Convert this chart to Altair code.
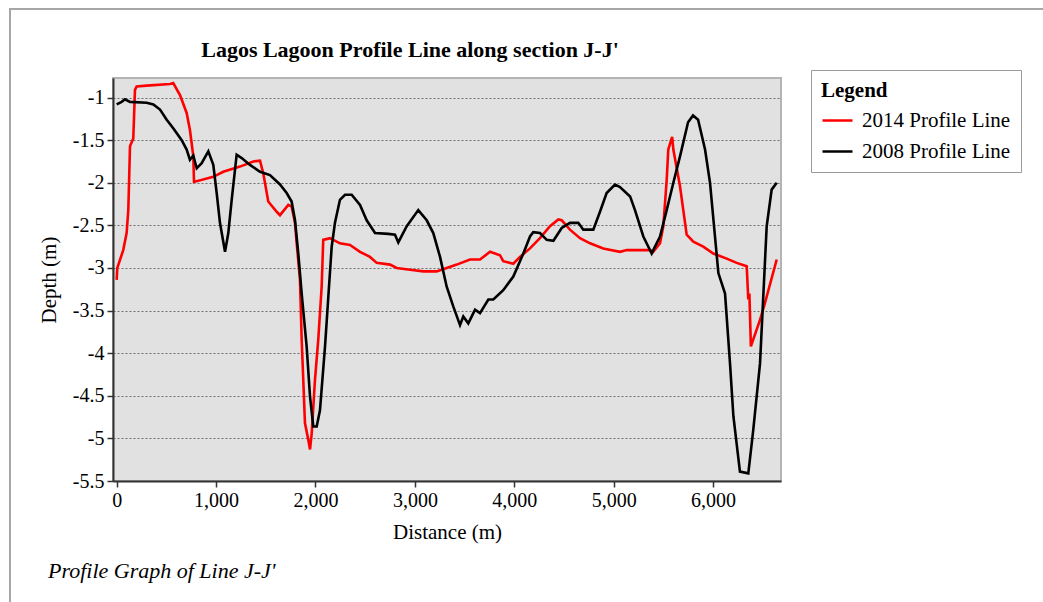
import altair as alt
import pandas as pd

# 2014 survey profile (distance along J-J' in metres, depth in metres)
dist_2014 = [0, 6, 66, 100, 117, 134, 167, 184, 201, 302, 536, 569, 637, 704, 737,
             771, 778, 972, 1072, 1240, 1374, 1442, 1475, 1525, 1610, 1643, 1726, 1760,
             1794, 1811, 1844, 1861, 1877, 1894, 1928, 1945, 1962, 1995, 2028, 2062,
             2078, 2146, 2246, 2347, 2448, 2548, 2616, 2750, 2817, 2951, 3085, 3219,
             3320, 3421, 3554, 3655, 3756, 3856, 3889, 3990, 4057, 4158, 4258, 4359,
             4443, 4477, 4560, 4661, 4762, 4895, 5063, 5131, 5365, 5398, 5466, 5499,
             5533, 5549, 5588, 5600, 5667, 5700, 5734, 5801, 5901, 6002, 6137, 6237,
             6338, 6354, 6365, 6380, 6472, 6522, 6640]
depth_2014 = [-3.14, -3.00, -2.79, -2.59, -2.32, -1.57, -1.48, -0.91, -0.87, -0.86, -0.84,
              -0.83, -0.97, -1.18, -1.38, -1.69, -1.99, -1.93, -1.87, -1.81, -1.75, -1.74,
              -1.89, -2.22, -2.34, -2.38, -2.26, -2.28, -2.47, -2.71, -3.14, -3.84, -4.31,
              -4.82, -5.02, -5.13, -4.94, -4.31, -3.84, -3.22, -2.67, -2.65, -2.71, -2.73,
              -2.81, -2.87, -2.94, -2.96, -3.00, -3.02, -3.04, -3.04, -3.00, -2.96, -2.90,
              -2.90, -2.81, -2.85, -2.92, -2.95, -2.87, -2.77, -2.65, -2.51, -2.43, -2.44,
              -2.55, -2.65, -2.71, -2.77, -2.81, -2.79, -2.79, -2.81, -2.71, -2.51, -1.97,
              -1.61, -1.46, -1.61, -2.04, -2.32, -2.61, -2.69, -2.75, -2.83, -2.89, -2.94,
              -2.98, -3.37, -3.30, -3.92, -3.61, -3.41, -2.90]

# 2008 survey profile
dist_2008 = [0, 50, 84, 134, 302, 369, 436, 503, 569, 654, 704, 737, 771, 805, 855, 922,
             972, 1006, 1039, 1090, 1123, 1157, 1207, 1258, 1341, 1442, 1542, 1643, 1710,
             1760, 1794, 1827, 1861, 1911, 1945, 1978, 2012, 2045, 2096, 2129, 2163, 2196,
             2246, 2297, 2364, 2448, 2515, 2599, 2733, 2800, 2833, 2918, 3034, 3119, 3185,
             3253, 3320, 3386, 3454, 3487, 3537, 3605, 3655, 3739, 3789, 3889, 3990, 4091,
             4158, 4191, 4258, 4326, 4393, 4477, 4560, 4644, 4694, 4795, 4862, 4929, 5013,
             5063, 5165, 5214, 5298, 5382, 5398, 5466, 5533, 5600, 5667, 5748, 5798, 5849,
             5919, 5969, 6053, 6120, 6170, 6204, 6270, 6354, 6404, 6472, 6539, 6589, 6640]
depth_2008 = [-1.08, -1.05, -1.02, -1.05, -1.06, -1.08, -1.14, -1.26, -1.36, -1.50, -1.61,
              -1.73, -1.68, -1.83, -1.77, -1.63, -1.79, -2.12, -2.47, -2.81, -2.59, -2.20,
              -1.67, -1.71, -1.79, -1.87, -1.91, -2.02, -2.12, -2.22, -2.44, -2.83, -3.30,
              -3.92, -4.51, -4.86, -4.86, -4.67, -3.92, -3.34, -2.75, -2.47, -2.20, -2.14,
              -2.14, -2.26, -2.44, -2.59, -2.60, -2.61, -2.70, -2.51, -2.32, -2.44, -2.59,
              -2.87, -3.22, -3.45, -3.67, -3.57, -3.65, -3.49, -3.53, -3.37, -3.37, -3.26,
              -3.10, -2.83, -2.63, -2.58, -2.59, -2.67, -2.68, -2.53, -2.47, -2.47, -2.55,
              -2.55, -2.34, -2.12, -2.02, -2.05, -2.16, -2.32, -2.63, -2.83, -2.79, -2.63,
              -2.32, -2.00, -1.69, -1.29, -1.21, -1.26, -1.61, -2.00, -3.06, -3.30, -4.12,
              -4.74, -5.39, -5.41, -4.90, -4.12, -2.51, -2.08, -2.00]

series_names = ["2014 Profile Line", "2008 Profile Line"]
series_colors = ["#ff0000", "#000000"]
x_ticks = [0, 1000, 2000, 3000, 4000, 5000, 6000]
y_ticks = [-1, -1.5, -2, -2.5, -3, -3.5, -4, -4.5, -5, -5.5]

assert len(dist_2014) == len(depth_2014)
assert len(dist_2008) == len(depth_2008)

profiles = pd.concat([
    pd.DataFrame({"distance": dist_2014, "depth": depth_2014, "series": series_names[0]}),
    pd.DataFrame({"distance": dist_2008, "depth": depth_2008, "series": series_names[1]}),
])

SERIF = "Liberation Serif"
W, H = 668, 403
PAD_L, PAD_T = 113, 78

lines = alt.Chart(profiles).mark_line(strokeWidth=2.6).encode(
    x=alt.X("distance:Q",
            scale=alt.Scale(domain=[-37, 6683], nice=False, zero=False),
            axis=alt.Axis(values=x_ticks, labelExpr="format(datum.value, ',.0f')",
                          title="Distance (m)", grid=False, titlePadding=11)),
    y=alt.Y("depth:Q",
            scale=alt.Scale(domain=[-5.5, -0.77], nice=False, zero=False),
            axis=alt.Axis(values=y_ticks, labelExpr="toString(datum.value)",
                          title="Depth (m)", grid=True,
                          gridDash=[2, 2], gridColor="#6e6e6e", gridWidth=1,
                          titlePadding=13)),
    color=alt.Color("series:N",
                    scale=alt.Scale(domain=series_names, range=series_colors),
                    sort=series_names,
                    legend=alt.Legend(title="Legend", orient="none",
                                      legendX=811 - PAD_L, legendY=70 - PAD_T)),
    order=alt.Order("distance:Q"),
)

one_row = pd.DataFrame({"k": [0]})

# outer frame around the whole figure
frame = alt.Chart(one_row).mark_rect(
    fill="transparent", stroke="#a6a6a6", strokeWidth=2
).encode(
    x=alt.value(10 - PAD_L), x2=alt.value(1043 - PAD_L + 10),
    y=alt.value(9 - PAD_T), y2=alt.value(602 - PAD_T + 10),
)

title = alt.Chart(one_row).mark_text(
    text="Lagos Lagoon Profile Line along section J-J'", font=SERIF, fontSize=22,
    fontWeight="bold", align="center", baseline="middle", color="#000000"
).encode(x=alt.value(410 - PAD_L), y=alt.value(50 - PAD_T))

caption = alt.Chart(one_row).mark_text(
    text="Profile Graph of Line J-J'", font=SERIF, fontSize=22, fontStyle="italic",
    align="left", baseline="middle", color="#000000"
).encode(x=alt.value(48 - PAD_L), y=alt.value(571 - PAD_T))

chart = alt.layer(lines, frame, title, caption).properties(
    width=W, height=H,
    autosize=alt.AutoSizeParams(type="none"),
    padding={"left": PAD_L, "top": PAD_T, "right": 1043 - PAD_L - W,
             "bottom": 602 - PAD_T - H},
    background="white",
).configure_view(
    fill="#e1e1e1", stroke="#b4b4b4", strokeWidth=2
).configure_axis(
    labelFont=SERIF, labelFontSize=20, labelColor="#000000",
    titleFont=SERIF, titleFontSize=21, titleFontWeight="normal", titleColor="#000000",
    domainColor="#333333", domainWidth=2, tickColor="#333333", tickWidth=1.5,
    tickSize=6, labelPadding=3,
).configure_legend(
    titleFont=SERIF, titleFontSize=21, titleFontWeight="bold", titleColor="#000000",
    labelFont=SERIF, labelFontSize=21, labelColor="#000000",
    symbolType="stroke", symbolSize=900, symbolStrokeWidth=2.5,
    labelOffset=8, rowPadding=4, titlePadding=3, padding=10,
    strokeColor="#9a9a9a", fillColor="#ffffff", cornerRadius=0,
)

chart.save("out.html", embed_options={"renderer": "svg", "actions": False})
